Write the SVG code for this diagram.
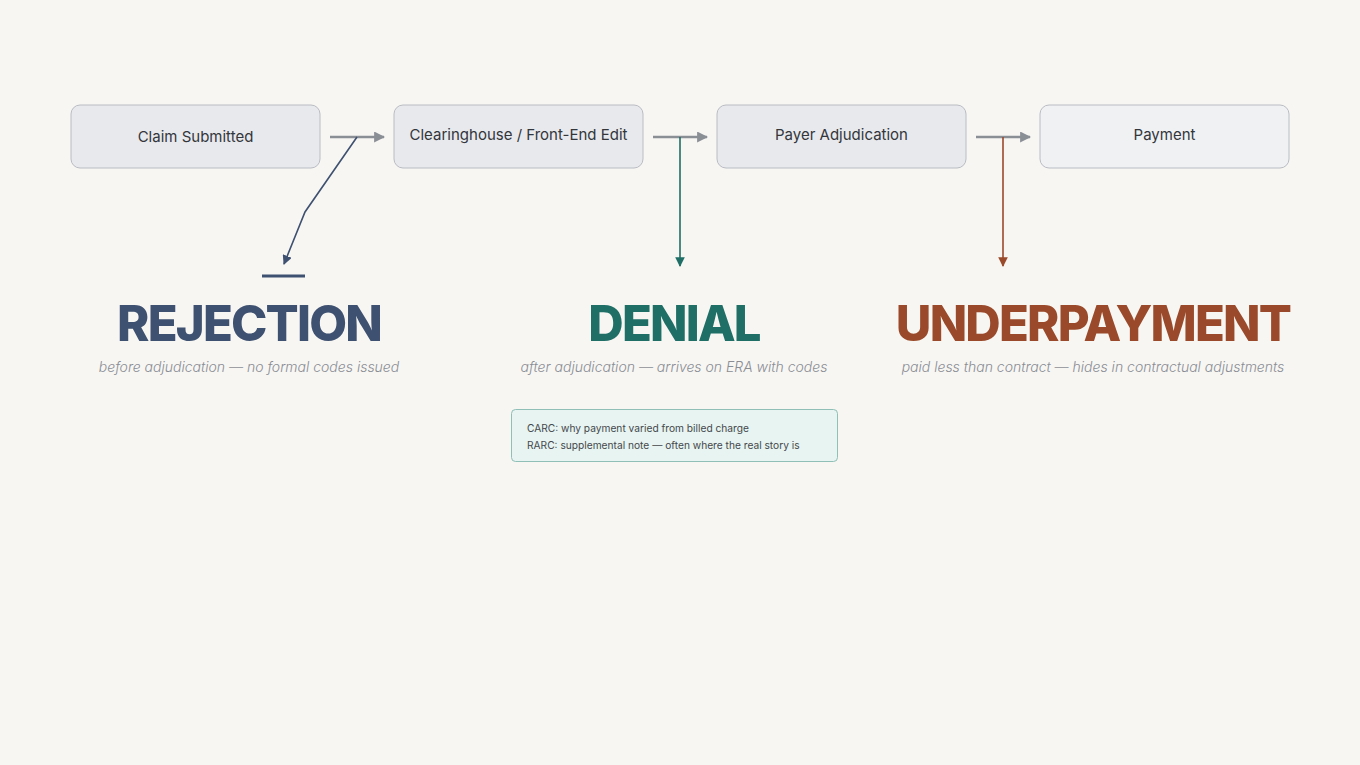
<svg xmlns="http://www.w3.org/2000/svg" width="1360" height="765" viewBox="0 0 1360 765">
<style>
.node{fill:#e8e9ed;stroke:#b9bcc3;stroke-width:1}
.node.light{fill:#f0f1f3}
.nt{font-family:Inter,"Noto Sans",sans-serif;font-size:15px;fill:#33363b;text-anchor:middle}
.flow{stroke:#8a8f96;stroke-width:2.5;fill:none}
.head{font-family:Inter,"Noto Sans",sans-serif;font-weight:800;font-size:49px;letter-spacing:-1.8px;text-anchor:middle}
.sub{font-family:Inter,"Noto Sans",sans-serif;font-style:italic;font-weight:300;font-size:14px;fill:#8a8d93;text-anchor:middle}
.note{font-family:Inter,"Noto Sans",sans-serif;font-size:10.2px;fill:#44474c}
</style>
<defs>
<marker id="ag" viewBox="0 0 10 10" refX="9" refY="5" markerWidth="4.4" markerHeight="4.4" orient="auto" markerUnits="strokeWidth"><path d="M0,0L10,5L0,10z" fill="#8a8f96"/></marker>
<marker id="ab" viewBox="0 0 10 10" refX="9" refY="5" markerWidth="6" markerHeight="6" orient="auto" markerUnits="strokeWidth"><path d="M0,0L10,5L0,10z" fill="#3f5170"/></marker>
<marker id="at" viewBox="0 0 10 10" refX="9" refY="5" markerWidth="6" markerHeight="6" orient="auto" markerUnits="strokeWidth"><path d="M0,0L10,5L0,10z" fill="#1f6f66"/></marker>
<marker id="ar" viewBox="0 0 10 10" refX="9" refY="5" markerWidth="6" markerHeight="6" orient="auto" markerUnits="strokeWidth"><path d="M0,0L10,5L0,10z" fill="#9a4a2a"/></marker>
</defs>
<rect width="1360" height="765" fill="#f7f6f3"/>
<g id="connectors">
<line class="flow" x1="330" y1="137" x2="384" y2="137" marker-end="url(#ag)"/>
<line class="flow" x1="653" y1="137" x2="707" y2="137" marker-end="url(#ag)"/>
<line class="flow" x1="976" y1="137" x2="1030" y2="137" marker-end="url(#ag)"/>
<polyline points="357,137 305,212 284,264" fill="none" stroke="#3f5170" stroke-width="1.6" marker-end="url(#ab)"/>
<line x1="680" y1="137" x2="680" y2="266" stroke="#1f6f66" stroke-width="1.6" marker-end="url(#at)"/>
<line x1="1003" y1="137" x2="1003" y2="266" stroke="#9a4a2a" stroke-width="1.6" marker-end="url(#ar)"/>
<line x1="262" y1="276" x2="305" y2="276" stroke="#3f5170" stroke-width="3"/>
</g>
<g id="node-claim"><rect class="node" x="71" y="105" width="249" height="63" rx="9"/><text class="nt" x="195.5" y="142">Claim Submitted</text></g>
<g id="node-clearinghouse"><rect class="node" x="394" y="105" width="249" height="63" rx="9"/><text class="nt" x="518.5" y="140">Clearinghouse / Front-End Edit</text></g>
<g id="node-payer"><rect class="node" x="717" y="105" width="249" height="63" rx="9"/><text class="nt" x="841.5" y="140">Payer Adjudication</text></g>
<g id="node-payment"><rect class="node light" x="1040" y="105" width="249" height="63" rx="9"/><text class="nt" x="1164.5" y="140">Payment</text></g>
<g id="rejection"><text class="head" x="249" y="341" fill="#3f5170">REJECTION</text><text class="sub" x="249" y="372">before adjudication — no formal codes issued</text></g>
<g id="denial"><text class="head" x="674" y="341" fill="#1f6f66">DENIAL</text><text class="sub" x="674" y="372">after adjudication — arrives on ERA with codes</text></g>
<g id="underpayment"><text class="head" x="1093" y="341" fill="#9a4a2a">UNDERPAYMENT</text><text class="sub" x="1093" y="372">paid less than contract — hides in contractual adjustments</text></g>
<g id="note"><rect x="511.5" y="409.5" width="326" height="52" rx="4" fill="#e7f4f1" stroke="#8fbfb6" stroke-width="1"/>
<text class="note" x="527" y="432">CARC: why payment varied from billed charge</text>
<text class="note" x="527" y="449">RARC: supplemental note — often where the real story is</text></g>
</svg>
